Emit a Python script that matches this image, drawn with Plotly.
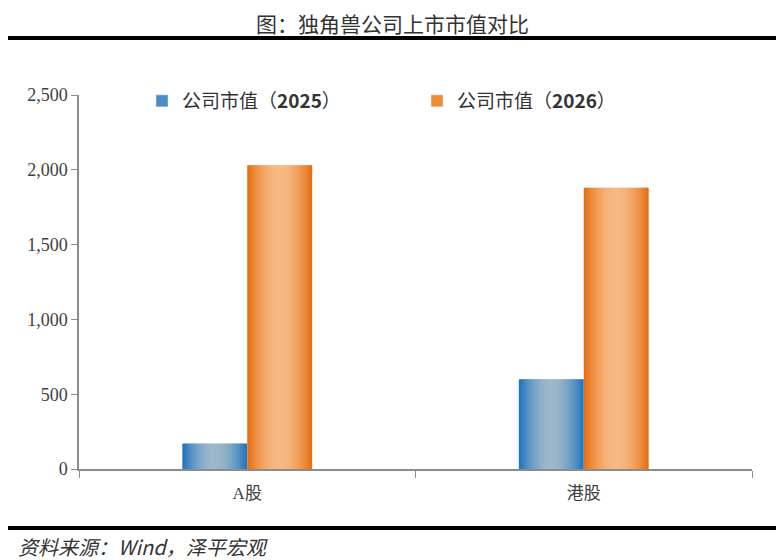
import math
import plotly.graph_objects as go

# ── Data ─────────────────────────────────────────────────────────────────────
CATEGORIES = ["A股", "港股"]
SERIES_NAMES = ["公司市值（<b>2025</b>）", "公司市值（<b>2026</b>）"]
VALUES_2025 = [170, 600]
VALUES_2026 = [2030, 1880]
Y_TICKS = [0, 500, 1000, 1500, 2000, 2500]

# ── Style ────────────────────────────────────────────────────────────────────
# page body has an 8px margin, so the figure is drawn 8px in from the corner
PAGE_OFF = 8
W, H = 784 - PAGE_OFF, 560 - PAGE_OFF
M_L, M_R, M_T, M_B = 79 - PAGE_OFF, 32, 95 - PAGE_OFF, 91
SERIF = "Liberation Serif, Noto Sans CJK SC, serif"
CJK = "Noto Sans CJK SC, sans-serif"
AXIS_GRAY = "#8c8c8c"

BAR_W = 0.193          # in category units
N_SLICES = 26          # slices per bar, used to fake a horizontal gradient
BLUE_EDGE, BLUE_MID = (24, 112, 190), (156, 184, 203)
ORANGE_EDGE, ORANGE_MID = (228, 106, 10), (247, 186, 132)


def px_x(px):
    # screen pixel -> paper x
    return (px - PAGE_OFF - M_L) / (W - M_L - M_R)


def px_y(px):
    # screen pixel -> paper y
    return (H - M_B - (px - PAGE_OFF)) / (H - M_T - M_B)


def mix(a, b, f):
    return "rgb({},{},{})".format(*[round(a[i] + (b[i] - a[i]) * f) for i in range(3)])


def gradient_bars(fig, values, offset, edge, mid):
    sw = BAR_W / N_SLICES
    for i in range(N_SLICES):
        t = (i + 0.5) / N_SLICES
        f = math.sin(math.pi * t) ** 0.9
        fig.add_trace(go.Bar(
            x=CATEGORIES, y=values,
            width=sw * 1.6 if i < N_SLICES - 1 else sw,
            offset=offset + i * sw,
            marker=dict(color=mix(edge, mid, f), line=dict(width=0)),
            showlegend=False, hoverinfo="skip",
        ))


fig = go.Figure()
gradient_bars(fig, VALUES_2025, -BAR_W, BLUE_EDGE, BLUE_MID)
gradient_bars(fig, VALUES_2026, 0, ORANGE_EDGE, ORANGE_MID)

# legend-only entries
for name, col in zip(SERIES_NAMES, ["#4a8cc4", "#ef8c37"]):
    fig.add_trace(go.Bar(x=[None], y=[None], name=name, marker_color=col))

fig.update_layout(
    width=W, height=H,
    margin=dict(l=M_L, r=M_R, t=M_T, b=M_B),
    plot_bgcolor="white", paper_bgcolor="white",
    barmode="overlay",
    font=dict(family=SERIF, size=17, color="#404040"),
    legend=dict(
        orientation="h", x=px_x(142), y=px_y(101), xanchor="left", yanchor="middle",
        font=dict(family=CJK, size=19, color="#333333"),
        entrywidth=230, bgcolor="rgba(0,0,0,0)",
    ),
    xaxis=dict(
        range=[-0.5, 1.5], showline=True, linecolor=AXIS_GRAY, linewidth=1.5,
        ticks="outside", tickson="boundaries", ticklen=7, tickcolor=AXIS_GRAY,
        ticklabelstandoff=8,
        tickfont=dict(family=SERIF, size=17, color="#404040"),
        showgrid=False, zeroline=False,
    ),
    yaxis=dict(
        range=[0, 2500], tickvals=Y_TICKS, tickformat=",",
        showline=True, linecolor=AXIS_GRAY, linewidth=1.5,
        ticks="outside", ticklen=6, tickcolor=AXIS_GRAY,
        tickfont=dict(family=SERIF, size=18, color="#404040"),
        showgrid=False, zeroline=False,
    ),
    shapes=[
        dict(type="line", xref="paper", yref="paper",
             x0=px_x(4), x1=px_x(780), y0=px_y(38), y1=px_y(38),
             line=dict(color="black", width=4)),
        dict(type="line", xref="paper", yref="paper",
             x0=px_x(4), x1=px_x(780), y0=px_y(528), y1=px_y(528),
             line=dict(color="black", width=4)),
    ],
    annotations=[
        dict(text="图：独角兽公司上市市值对比", xref="paper", yref="paper",
             x=px_x(392), y=px_y(23), xanchor="center", yanchor="middle",
             showarrow=False, font=dict(family=CJK, size=21, color="#333333")),
        dict(text="<i>资料来源：Wind，泽平宏观</i>", xref="paper", yref="paper",
             x=px_x(16), y=px_y(546), xanchor="left", yanchor="middle",
             showarrow=False, font=dict(family=CJK, size=20, color="#333333")),
    ],
)

fig.write_html("out.html")
